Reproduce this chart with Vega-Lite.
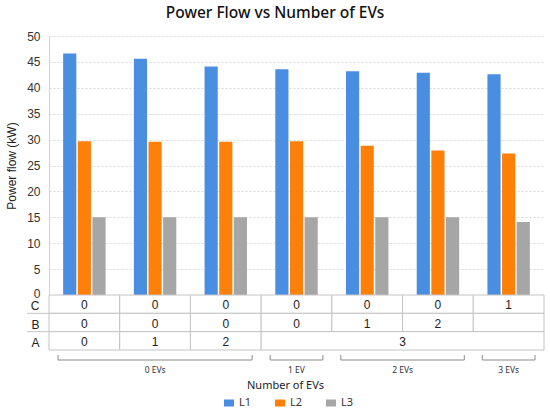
{
  "$schema": "https://vega.github.io/schema/vega-lite/v6.json",
  "padding": {"left": 5, "top": 5, "right": 7, "bottom": 4},
  "title": {
    "text": "Power Flow vs Number of EVs",
    "anchor": "middle",
    "frame": "bounds",
    "font": "Noto Sans",
    "fontSize": 15.5,
    "fontWeight": 500,
    "color": "#111111",
    "offset": 9
  },
  "datasets": {
    "flows": [
      {"case": 1, "line": "L1", "flow": 46.6},
      {"case": 1, "line": "L2", "flow": 29.7},
      {"case": 1, "line": "L3", "flow": 15.0},
      {"case": 2, "line": "L1", "flow": 45.6},
      {"case": 2, "line": "L2", "flow": 29.6},
      {"case": 2, "line": "L3", "flow": 15.0},
      {"case": 3, "line": "L1", "flow": 44.1},
      {"case": 3, "line": "L2", "flow": 29.6},
      {"case": 3, "line": "L3", "flow": 15.0},
      {"case": 4, "line": "L1", "flow": 43.6},
      {"case": 4, "line": "L2", "flow": 29.7},
      {"case": 4, "line": "L3", "flow": 15.0},
      {"case": 5, "line": "L1", "flow": 43.2},
      {"case": 5, "line": "L2", "flow": 28.8},
      {"case": 5, "line": "L3", "flow": 15.0},
      {"case": 6, "line": "L1", "flow": 42.9},
      {"case": 6, "line": "L2", "flow": 27.9},
      {"case": 6, "line": "L3", "flow": 15.0},
      {"case": 7, "line": "L1", "flow": 42.6},
      {"case": 7, "line": "L2", "flow": 27.3},
      {"case": 7, "line": "L3", "flow": 14.1}
    ],
    "table": [
      {"row": "C", "start": 0, "end": 1, "label": "0"},
      {"row": "C", "start": 1, "end": 2, "label": "0"},
      {"row": "C", "start": 2, "end": 3, "label": "0"},
      {"row": "C", "start": 3, "end": 4, "label": "0"},
      {"row": "C", "start": 4, "end": 5, "label": "0"},
      {"row": "C", "start": 5, "end": 6, "label": "0"},
      {"row": "C", "start": 6, "end": 7, "label": "1"},
      {"row": "B", "start": 0, "end": 1, "label": "0"},
      {"row": "B", "start": 1, "end": 2, "label": "0"},
      {"row": "B", "start": 2, "end": 3, "label": "0"},
      {"row": "B", "start": 3, "end": 4, "label": "0"},
      {"row": "B", "start": 4, "end": 5, "label": "1"},
      {"row": "B", "start": 5, "end": 6, "label": "2"},
      {"row": "B", "start": 6, "end": 7, "label": ""},
      {"row": "A", "start": 0, "end": 1, "label": "0"},
      {"row": "A", "start": 1, "end": 2, "label": "1"},
      {"row": "A", "start": 2, "end": 3, "label": "2"},
      {"row": "A", "start": 3, "end": 7, "label": "3"}
    ],
    "groups": [
      {"group": "0 EVs", "start": 0, "end": 3},
      {"group": "1 EV", "start": 3, "end": 4},
      {"group": "2 EVs", "start": 4, "end": 6},
      {"group": "3 EVs", "start": 6, "end": 7}
    ]
  },
  "spacing": 0,
  "bounds": "flush",
  "resolve": {"scale": {"x": "independent", "y": "independent"}},
  "vconcat": [
    {
      "width": 495,
      "height": 259,
      "data": {"name": "flows"},
      "mark": {"type": "bar"},
      "encoding": {
        "x": {
          "field": "case",
          "type": "ordinal",
          "axis": null,
          "scale": {"paddingInner": 0.4, "paddingOuter": 0.2}
        },
        "xOffset": {
          "field": "line",
          "type": "nominal",
          "scale": {"paddingInner": 0.1, "paddingOuter": 0}
        },
        "y": {
          "field": "flow",
          "type": "quantitative",
          "scale": {"domain": [0, 50], "nice": false},
          "axis": {
            "title": "Power flow (kW)",
            "values": [0, 5, 10, 15, 20, 25, 30, 35, 40, 45, 50],
            "grid": true,
            "gridColor": "#d9d9d9",
            "gridDash": [2, 2],
            "ticks": false,
            "domain": true,
            "domainColor": "#d4d4d4",
            "labelFont": "Liberation Sans",
            "labelFontSize": 12,
            "labelColor": "#333333",
            "labelPadding": 9,
            "labelOffset": {"condition": {"test": "datum.value === 0", "value": -2}, "value": 0},
            "titleFont": "Liberation Sans",
            "titleFontSize": 12,
            "titleFontWeight": "normal",
            "titleColor": "#222222",
            "titlePadding": 8
          }
        },
        "color": {
          "field": "line",
          "type": "nominal",
          "scale": {"domain": ["L1", "L2", "L3"], "range": ["#4a8ee2", "#ff8008", "#a6a6a6"]},
          "legend": {
            "orient": "none",
            "legendX": 174,
            "legendY": 361,
            "direction": "horizontal",
            "title": null,
            "symbolType": "M-1,-0.7H1V0.7H-1Z",
            "symbolSize": 100,
            "labelFont": "Noto Sans",
            "labelFontSize": 11,
            "labelColor": "#333333",
            "columnPadding": 22
          }
        }
      }
    },
    {
      "width": 495,
      "height": 55,
      "data": {"name": "table"},
      "transform": [{"calculate": "(datum.start + datum.end) / 2", "as": "mid"}],
      "encoding": {
        "y": {
          "field": "row",
          "type": "nominal",
          "sort": ["C", "B", "A"],
          "axis": {
            "title": null,
            "ticks": false,
            "domain": false,
            "grid": false,
            "labelFont": "Liberation Sans",
            "labelFontSize": 12,
            "labelColor": "#222222",
            "labelPadding": 10,
            "labelOffset": 2
          }
        }
      },
      "layer": [
        {
          "mark": {"type": "rect", "fill": "white", "stroke": "#c4c4c4", "strokeWidth": 1},
          "encoding": {
            "x": {
              "field": "start",
              "type": "quantitative",
              "scale": {"domain": [0, 7], "nice": false, "zero": false},
              "axis": null
            },
            "x2": {"field": "end"}
          }
        },
        {
          "transform": [{"filter": "datum.start === 0 && datum.row !== 'C'"}],
          "mark": {"type": "rule", "color": "#c4c4c4", "strokeWidth": 1, "xOffset": -22},
          "encoding": {
            "x": {"datum": 0, "type": "quantitative"},
            "x2": {"datum": 0},
            "y": {"field": "row", "type": "nominal", "sort": ["C", "B", "A"], "bandPosition": 0}
          }
        },
        {
          "mark": {"type": "text", "font": "Liberation Sans", "fontSize": 12, "color": "#222222", "dy": 1},
          "encoding": {
            "x": {"field": "mid", "type": "quantitative"},
            "text": {"field": "label"}
          }
        }
      ]
    },
    {
      "width": 495,
      "height": 22,
      "data": {"name": "groups"},
      "transform": [{"calculate": "(datum.start + datum.end) / 2", "as": "mid"}],
      "layer": [
        {
          "mark": {"type": "rule", "color": "#8c8c8c", "strokeWidth": 1, "xOffset": 9, "x2Offset": -9},
          "encoding": {
            "x": {
              "field": "start",
              "type": "quantitative",
              "scale": {"domain": [0, 7], "nice": false, "zero": false},
              "axis": {
                "title": "Number of EVs",
                "labels": false,
                "ticks": false,
                "domain": false,
                "grid": false,
                "titleFont": "Noto Sans",
                "titleFontSize": 11,
                "titleFontWeight": "normal",
                "titleColor": "#222222",
                "titlePadding": 7,
                "titleX": 236
              }
            },
            "x2": {"field": "end"},
            "y": {"datum": 10, "type": "quantitative", "scale": {"domain": [0, 22], "reverse": true}, "axis": null}
          }
        },
        {
          "mark": {"type": "rule", "color": "#8c8c8c", "strokeWidth": 1, "xOffset": 9},
          "encoding": {
            "x": {"field": "start", "type": "quantitative"},
            "y": {"datum": 5, "type": "quantitative"},
            "y2": {"datum": 10}
          }
        },
        {
          "mark": {"type": "rule", "color": "#8c8c8c", "strokeWidth": 1, "xOffset": -9},
          "encoding": {
            "x": {"field": "end", "type": "quantitative"},
            "y": {"datum": 5, "type": "quantitative"},
            "y2": {"datum": 10}
          }
        },
        {
          "mark": {"type": "text", "font": "Noto Sans", "fontSize": 8.5, "color": "#333333", "dy": 1},
          "encoding": {
            "x": {"field": "mid", "type": "quantitative"},
            "y": {"datum": 19, "type": "quantitative"},
            "text": {"field": "group"}
          }
        }
      ]
    }
  ],
  "config": {
    "view": {"stroke": null},
    "axis": {"grid": false}
  }
}
